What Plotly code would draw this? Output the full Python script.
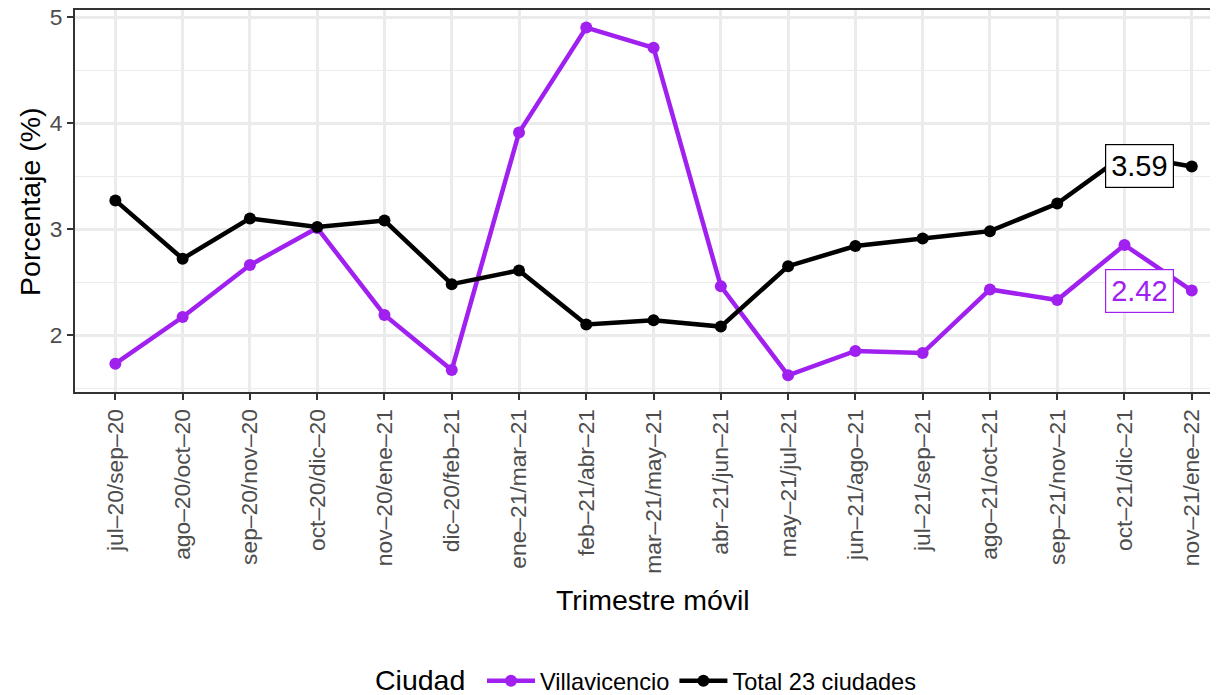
import plotly.graph_objects as go

categorias = ["jul–20/sep–20", "ago–20/oct–20", "sep–20/nov–20", "oct–20/dic–20",
              "nov–20/ene–21", "dic–20/feb–21", "ene–21/mar–21", "feb–21/abr–21",
              "mar–21/may–21", "abr–21/jun–21", "may–21/jul–21", "jun–21/ago–21",
              "jul–21/sep–21", "ago–21/oct–21", "sep–21/nov–21", "oct–21/dic–21",
              "nov–21/ene–22"]
villavicencio = [1.73, 2.17, 2.66, 3.01, 2.19, 1.67, 3.91, 4.90, 4.71, 2.46,
                 1.62, 1.85, 1.83, 2.43, 2.33, 2.85, 2.42]
total23 = [3.27, 2.72, 3.10, 3.02, 3.08, 2.48, 2.61, 2.10, 2.14, 2.08,
           2.65, 2.84, 2.91, 2.98, 3.24, 3.70, 3.59]
y_ticks = [2, 3, 4, 5]

PURPLE = "#A020F0"
FONT = "Liberation Sans, Arial, sans-serif"

fig = go.Figure()
fig.add_trace(go.Scatter(x=categorias, y=villavicencio, mode="lines+markers",
                         name="Villavicencio",
                         line=dict(color=PURPLE, width=4.5),
                         marker=dict(color=PURPLE, size=12)))
fig.add_trace(go.Scatter(x=categorias, y=total23, mode="lines+markers",
                         name="Total 23 ciudades",
                         line=dict(color="black", width=4.5),
                         marker=dict(color="black", size=12)))

for serie, color in [(total23, "black"), (villavicencio, PURPLE)]:
    fig.add_annotation(x=categorias[-1], y=serie[-1], xref="x", yref="y",
                       text=f"{serie[-1]:.2f}", showarrow=False, xshift=-52,
                       font=dict(family=FONT, size=29, color=color),
                       bgcolor="white", bordercolor=color, borderwidth=1.2,
                       borderpad=5)

fig.add_annotation(text="Trimestre móvil", xref="paper", yref="paper",
                   x=0.5057, y=-0.5445, showarrow=False,
                   xanchor="center", yanchor="middle",
                   font=dict(family=FONT, size=28.5, color="black"))
fig.add_annotation(text="Porcentaje (%)", xref="paper", yref="paper",
                   x=-0.0394, y=0.5, showarrow=False, textangle=-90,
                   xanchor="center", yanchor="middle",
                   font=dict(family=FONT, size=28.5, color="black"))
fig.add_annotation(text="Ciudad", xref="paper", yref="paper",
                   x=(373 - 75) / 1143, y=(392 - 680) / 382, showarrow=False,
                   xanchor="left", yanchor="middle",
                   font=dict(family=FONT, size=28.5, color="black"))

# page body has an 8px margin: figure is 1210x687 so it ends at the window edge
fig.update_layout(
    width=1210, height=687,
    margin=dict(l=67, r=0, t=2, b=303, autoexpand=False),
    paper_bgcolor="white", plot_bgcolor="white",
    font=dict(family=FONT, color="black"),
    showlegend=True,
    legend=dict(orientation="h", x=(482 - 75) / 1143, xanchor="left",
                y=(392 - 681) / 382, yanchor="middle",
                font=dict(family=FONT, size=23.6, color="black"),
                itemwidth=48, bgcolor="rgba(0,0,0,0)"),
)
fig.update_xaxes(
    type="category", range=[-0.6, 16.39], automargin=False,
    showgrid=True, gridcolor="#EBEBEB", gridwidth=2.5,
    showline=True, linecolor="#333333", linewidth=1.8, mirror=True,
    ticks="outside", ticklen=6, tickwidth=1.6, tickcolor="#333333",
    tickangle=-90, tickfont=dict(family=FONT, size=22.8, color="#4D4D4D"),
    ticklabeloverflow="allow", zeroline=False,
)
fig.update_yaxes(
    range=[1.463, 5.066], tickvals=y_ticks, ticktext=[str(v) for v in y_ticks],
    automargin=False,
    showgrid=True, gridcolor="#EBEBEB", gridwidth=2.5,
    minor=dict(dtick=0.5, tick0=0, showgrid=True, gridcolor="#EBEBEB",
               gridwidth=1.3, ticks=""),
    showline=True, linecolor="#333333", linewidth=1.8, mirror=False,
    ticks="outside", ticklen=6, tickwidth=1.6, tickcolor="#333333",
    tickfont=dict(family=FONT, size=22.8, color="#4D4D4D"),
    ticklabeloverflow="allow", zeroline=False,
)

fig.write_html("out.html")
